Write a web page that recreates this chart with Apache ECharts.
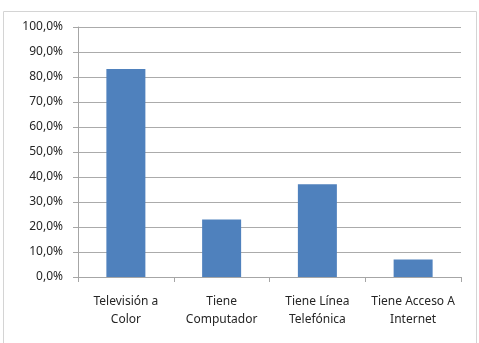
<!DOCTYPE html>
<html lang="es">
<head>
    <meta charset="UTF-8">
    <title>Tenencia de bienes</title>
    <script src="https://cdn.jsdelivr.net/npm/echarts@6/dist/echarts.min.js"></script>
    <style>
        html, body { margin: 0; padding: 0; background: #fff; }
        #chart { width: 479px; height: 343px; }
    </style>
</head>
<body>
    <div id="chart"></div>
    <script>
        // datos
        const categorias = ['Televisión a\nColor', 'Tiene\nComputador', 'Tiene Línea\nTelefónica', 'Tiene Acceso A\nInternet'];
        const porcentajes = [83.2, 23.0, 37.1, 7.0];
        const ejeMin = 0, ejeMax = 100, ejeIntervalo = 10;

        const chart = echarts.init(document.getElementById('chart'));
        chart.setOption({
            animation: false,
            textStyle: { fontFamily: 'Noto Sans' },
            graphic: [{
                type: 'rect',
                shape: { x: 3.5, y: 11.5, width: 473, height: 340 },
                style: { fill: 'none', stroke: '#d4d4d4', lineWidth: 1 },
                z: -1
            }],
            grid: { left: 78, right: 18, top: 27, bottom: 66 },
            xAxis: {
                type: 'category',
                data: categorias,
                axisLine: { lineStyle: { color: '#a6a6a6' } },
                axisTick: { show: true, length: 5, lineStyle: { color: '#a6a6a6' } },
                axisLabel: { color: '#262626', fontSize: 12, lineHeight: 18, margin: 16, interval: 0 }
            },
            yAxis: {
                type: 'value',
                min: ejeMin,
                max: ejeMax,
                interval: ejeIntervalo,
                axisLine: { show: true, lineStyle: { color: '#a6a6a6' } },
                axisTick: { show: true, length: 5, lineStyle: { color: '#a6a6a6' } },
                splitLine: { lineStyle: { color: '#ababab' } },
                axisLabel: {
                    color: '#262626', fontSize: 12, margin: 15,
                    formatter: v => v.toFixed(1).replace('.', ',') + '%'
                }
            },
            series: [{
                type: 'bar',
                data: porcentajes,
                barWidth: 39,
                itemStyle: { color: '#4f81bd' }
            }]
        });
    </script>
</body>
</html>
